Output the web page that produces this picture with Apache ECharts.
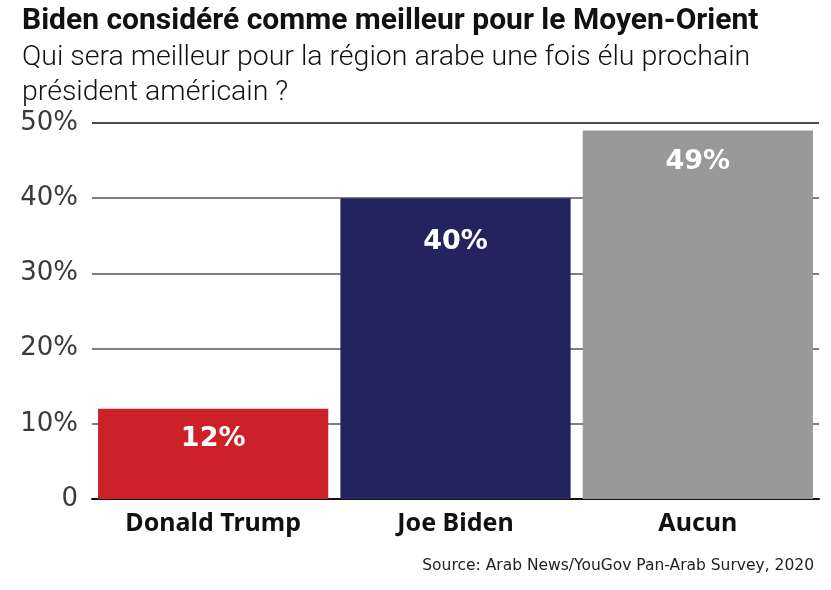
<!DOCTYPE html>
<html><head><meta charset="utf-8">
<script src="https://cdn.jsdelivr.net/npm/echarts@6/dist/echarts.min.js"></script>
<style>html,body{margin:0;padding:0;background:#fff}#c{width:831px;height:590px}</style>
</head><body><div id="c"></div>
<script>
const categories = ['Donald Trump', 'Joe Biden', 'Aucun'];
const values = [12, 40, 49];
const valueLabels = ['12%', '40%', '49%'];
const yTicks = [0, 10, 20, 30, 40, 50];
const barColors = ['#CD2129', '#232360', '#999999'];
const labelDist = [17, 30, 18];

const chart = echarts.init(document.getElementById('c'), null, {renderer: 'canvas'});
chart.setOption({
  animation: false,
  backgroundColor: '#fff',
  title: [
    {text: 'Biden considéré comme meilleur pour le Moyen-Orient', left: 17, top: 1,
     textStyle: {fontFamily: 'Roboto', fontWeight: 'bold', fontSize: 30, color: '#111'}},
    {text: 'Qui sera meilleur pour la région arabe une fois élu prochain\nprésident américain ?', left: 17, top: 35,
     textStyle: {fontFamily: 'Roboto', fontWeight: 300, fontSize: 28.5, lineHeight: 35, color: '#111'}},
    {text: 'Source: Arab News/YouGov Pan-Arab Survey, 2020', right: 12, top: 553,
     textStyle: {fontFamily: 'DejaVu Sans', fontWeight: 'normal', fontSize: 15.5, color: '#222'}}
  ],
  grid: {left: 92, width: 727, top: 123, height: 376, containLabel: false},
  xAxis: {
    type: 'category', data: categories,
    axisLine: {lineStyle: {color: '#111', width: 2}},
    axisTick: {show: false},
    axisLabel: {fontFamily: 'Noto Sans', fontWeight: 'bold', fontSize: 25, color: '#111', margin: 12}
  },
  yAxis: {
    type: 'value', min: yTicks[0], max: yTicks[yTicks.length - 1], interval: 10,
    axisLine: {show: false}, axisTick: {show: false},
    axisLabel: {fontFamily: 'DejaVu Sans', fontSize: 26, color: '#3a3a3a', margin: 14,
      formatter: v => v === 0 ? '0' : v + '%'},
    splitLine: {lineStyle: {color: ['#111', '#555', '#555', '#555', '#555', '#111'], width: 1.5}}
  },
  series: [{
    type: 'bar', barCategoryGap: '5%',
    data: values.map((v, i) => ({
      value: v,
      itemStyle: {color: barColors[i]},
      label: {distance: labelDist[i], formatter: valueLabels[i]}
    })),
    label: {show: true, position: 'insideTop', color: '#fff', fontFamily: 'DejaVu Sans',
      fontWeight: 'bold', fontSize: 27}
  }]
});
</script></body></html>
